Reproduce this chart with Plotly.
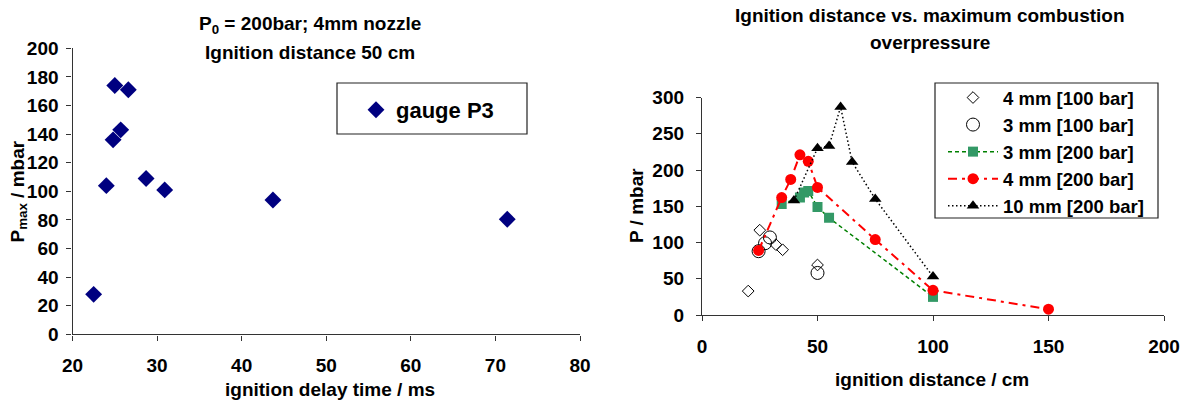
import plotly.graph_objects as go

W, H = 1185, 401

# ---------------- data: left chart ----------------
delay_ms = [25.0, 26.6, 25.7, 24.8, 24.0, 28.7, 30.9, 43.7, 71.4, 22.5]
pmax_p3 = [174, 171, 143, 136, 104, 109, 101, 94, 80.5, 28]

# ---------------- data: right chart ----------------
d_4mm_100 = [20, 25, 32, 34.9, 50]
p_4mm_100 = [33, 117, 97, 90, 69]
d_3mm_100 = [24.5, 27.3, 29.4, 50]
p_3mm_100 = [88, 99, 107, 58]
d_3mm_200 = [34.5, 42.4, 44.2, 46, 50, 55, 100]
p_3mm_200 = [153, 162, 169, 171, 149, 134, 25]
d_4mm_200 = [24.5, 34.5, 38.4, 42.4, 46, 50, 75, 100, 150]
p_4mm_200 = [89, 162, 187, 221, 212, 176, 104, 34, 8]
d_10mm_200 = [39.8, 50, 55, 60, 65, 75, 100]
p_10mm_200 = [158, 230, 233, 287, 211, 160, 53]

left_title = ["P<sub>0</sub> = 200bar; 4mm nozzle", "Ignition distance 50 cm"]
right_title = ["Ignition distance vs. maximum combustion", "overpressure"]


def fx(p):
    return p / W


def fy(p):
    return 1 - p / H


FONT = "Liberation Sans, Arial, sans-serif"
AX = "#333333"

fig = go.Figure()

fig.add_trace(go.Scatter(
    x=delay_ms, y=pmax_p3, mode="markers", name="gauge P3",
    marker=dict(symbol="diamond", size=13, color="#000080"),
    xaxis="x", yaxis="y", legend="legend"))

fig.add_trace(go.Scatter(
    x=d_4mm_100, y=p_4mm_100, mode="markers", name="4 mm [100 bar]",
    marker=dict(symbol="diamond-open", size=9, color="black", line=dict(width=1, color="black")),
    xaxis="x2", yaxis="y2", legend="legend2"))
fig.add_trace(go.Scatter(
    x=d_3mm_100, y=p_3mm_100, mode="markers", name="3 mm [100 bar]",
    marker=dict(symbol="circle-open", size=13, color="black", line=dict(width=1, color="black")),
    xaxis="x2", yaxis="y2", legend="legend2"))
fig.add_trace(go.Scatter(
    x=d_3mm_200, y=p_3mm_200, mode="lines+markers", name="3 mm [200 bar]",
    line=dict(color="#008000", width=1.5, dash="4px,3px"),
    marker=dict(symbol="square", size=10, color="#339966"),
    xaxis="x2", yaxis="y2", legend="legend2"))
fig.add_trace(go.Scatter(
    x=d_4mm_200, y=p_4mm_200, mode="lines+markers", name="4 mm [200 bar]",
    line=dict(color="#FF0000", width=2, dash="9px,5px,3px,5px"),
    marker=dict(symbol="circle", size=11, color="#FF0000"),
    xaxis="x2", yaxis="y2", legend="legend2"))
fig.add_trace(go.Scatter(
    x=d_10mm_200, y=p_10mm_200, mode="lines+markers", name="10 mm [200 bar]",
    line=dict(color="black", width=1.5, dash="1.5px,2.5px"),
    marker=dict(symbol="triangle-up", size=11, color="black"),
    xaxis="x2", yaxis="y2", legend="legend2"))

axis_common = dict(
    showgrid=False, zeroline=False, showline=True, linecolor=AX, linewidth=1.3,
    ticks="outside", ticklen=5, tickwidth=1.3, tickcolor=AX, automargin=False,
    tickfont=dict(size=19, family=FONT, color="black", weight="bold"),
)

fig.update_layout(
    width=W, height=H, margin=dict(l=0, r=0, t=0, b=0, pad=0, autoexpand=False),
    paper_bgcolor="white", plot_bgcolor="white",
    font=dict(family=FONT, size=19, color="black", weight="bold"),
    xaxis=dict(domain=[fx(72.5), fx(580)], range=[20, 80], dtick=10, anchor="y",
               ticklabelstandoff=9, **axis_common),
    yaxis=dict(domain=[fy(334.4), fy(48.3)], range=[0, 200], dtick=20, anchor="x",
               ticklabelstandoff=4, **axis_common),
    xaxis2=dict(domain=[fx(702), fx(1164)], range=[0, 200], dtick=50, anchor="y2",
                ticklabelstandoff=9, **axis_common),
    yaxis2=dict(domain=[fy(315), fy(97.5)], range=[0, 300], dtick=50, anchor="x2",
                ticklabelstandoff=8, **axis_common),
    legend=dict(x=fx(356), xanchor="left", y=fy(110), yanchor="middle",
                bgcolor="rgba(0,0,0,0)", borderwidth=0,
                font=dict(size=22, family=FONT, color="black", weight="bold")),
    legend2=dict(x=fx(943), xanchor="left", y=fy(79), yanchor="top",
                 bgcolor="rgba(0,0,0,0)", borderwidth=0, itemwidth=50,
                 font=dict(size=18.5, family=FONT, color="black", weight="bold")),
    showlegend=True,
)

# legend frames
fig.add_shape(type="rect", xref="paper", yref="paper",
              x0=fx(337), x1=fx(527), y0=fy(134), y1=fy(83),
              line=dict(color="#222222", width=1.2), fillcolor="rgba(0,0,0,0)")
fig.add_shape(type="rect", xref="paper", yref="paper",
              x0=fx(935), x1=fx(1158), y0=fy(218), y1=fy(83),
              line=dict(color="#222222", width=1.2), fillcolor="rgba(0,0,0,0)")

ann = []
ann.append(dict(text=left_title[0], x=fx(310), y=fy(25)))
ann.append(dict(text=left_title[1], x=fx(310), y=fy(52)))
ann.append(dict(text=right_title[0], x=fx(929.5), y=fy(15.5)))
ann.append(dict(text=right_title[1], x=fx(929.5), y=fy(42)))
ann.append(dict(text="ignition delay time / ms", x=fx(329.7), y=fy(389)))
ann.append(dict(text="ignition distance / cm", x=fx(932), y=fy(379)))
ann.append(dict(text="P<sub>max</sub> / mbar", x=fx(18.5), y=fy(192), textangle=-90))
ann.append(dict(text="P / mbar", x=fx(636), y=fy(206), textangle=-90))
for a in ann:
    fig.add_annotation(xref="paper", yref="paper", showarrow=False,
                       xanchor="center", yanchor="middle",
                       font=dict(size=19, family=FONT, color="black", weight="bold"),
                       **a)

fig.write_html("out.html",
               config={"displayModeBar": False},
               post_script="document.body.style.margin='0';document.body.style.padding='0';")
